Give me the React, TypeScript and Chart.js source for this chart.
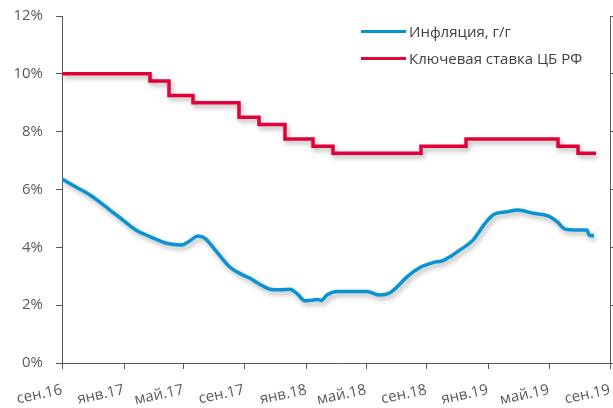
import React, { useEffect, useRef } from 'react';
import { Chart, registerables } from 'chart.js';

Chart.register(...registerables);

// x values are days from the start of the axis (labelled "сен.16")
const tickDays = [0, 124, 243, 364, 489, 608, 729, 852, 974, 1096];
const tickLabels = ['сен.16', 'янв.17', 'май.17', 'сен.17', 'янв.18', 'май.18', 'сен.18', 'янв.19', 'май.19', 'сен.19'];

const inflationDays = [0, 26, 56, 96, 120, 146, 176, 209, 239, 256, 272, 286, 309, 336, 362, 376, 396, 416, 436, 456, 470, 486, 502, 512, 518, 530, 550, 576, 610, 636, 656, 674, 690, 716, 742, 762, 780, 796, 822, 846, 862, 890, 912, 942, 972, 990, 1006, 1030, 1050, 1054, 1064];
const inflationValues = [6.36, 6.10, 5.81, 5.29, 4.97, 4.62, 4.37, 4.14, 4.08, 4.23, 4.39, 4.31, 3.85, 3.31, 3.04, 2.93, 2.72, 2.55, 2.53, 2.55, 2.40, 2.15, 2.18, 2.20, 2.16, 2.35, 2.47, 2.47, 2.47, 2.35, 2.43, 2.70, 2.98, 3.30, 3.47, 3.54, 3.72, 3.91, 4.25, 4.83, 5.12, 5.23, 5.29, 5.18, 5.09, 4.89, 4.63, 4.60, 4.60, 4.43, 4.40];

const keyRateDays = [0, 176, 214, 262, 354, 394, 446, 502, 542, 718, 808, 992, 1032, 1068];
const keyRateValues = [10.0, 9.75, 9.25, 9.0, 8.5, 8.25, 7.75, 7.5, 7.25, 7.5, 7.75, 7.5, 7.25, 7.25];

const yTickValues = [0, 2, 4, 6, 8, 10, 12];

const seriesNames = ['Инфляция, г/г', 'Ключевая ставка ЦБ РФ'];
const BLUE = '#0A93D2';
const RED = '#E2003B';
const AXIS = '#595959';
const FONT = "'Open Sans', sans-serif";

const shadowPlugin = {
  id: 'lineShadow',
  beforeDatasetDraw(chart: any) {
    const ctx = chart.ctx;
    ctx.save();
    ctx.shadowColor = 'rgba(0,0,0,0.3)';
    ctx.shadowBlur = 5;
    ctx.shadowOffsetX = 2;
    ctx.shadowOffsetY = 3;
  },
  afterDatasetDraw(chart: any) {
    chart.ctx.restore();
  },
};

const noPad = (s: any) => {
  s.paddingTop = 0;
  s.paddingBottom = 0;
  s.paddingLeft = 0;
  s.paddingRight = 0;
};

export default function App() {
  const ref = useRef<HTMLCanvasElement>(null);

  useEffect(() => {
    document.body.style.margin = '0';
    const canvas = ref.current;
    if (!canvas) return;
    Chart.defaults.font.family = FONT;
    const chart = new Chart(canvas, {
      type: 'line',
      data: {
        datasets: [
          {
            label: seriesNames[0],
            data: inflationDays.map((d, i) => ({ x: d, y: inflationValues[i] })),
            borderColor: BLUE,
            borderWidth: 3.5,
            pointRadius: 0,
            tension: 0.4,
            cubicInterpolationMode: 'monotone',
            fill: false,
          },
          {
            label: seriesNames[1],
            data: keyRateDays.map((d, i) => ({ x: d, y: keyRateValues[i] })),
            borderColor: RED,
            borderWidth: 3.5,
            pointRadius: 0,
            stepped: true,
            fill: false,
          },
        ],
      } as any,
      options: {
        animation: false,
        responsive: false,
        maintainAspectRatio: false,
        layout: { padding: { top: 16, left: 0, right: 0, bottom: 0 } },
        plugins: { legend: { display: false }, tooltip: { enabled: false } },
        scales: {
          x: {
            type: 'linear',
            min: 0,
            max: 1096,
            afterBuildTicks: (s: any) => {
              s.ticks = tickDays.map((v) => ({ value: v }));
            },
            afterFit: (s: any) => {
              s.height = 45;
              noPad(s);
            },
            ticks: {
              autoSkip: false,
              minRotation: 12,
              maxRotation: 12,
              padding: 12,
              color: AXIS,
              font: { size: 15, family: FONT },
              callback: (_v: any, i: number) => tickLabels[i],
            },
            grid: { drawOnChartArea: false, drawTicks: true, tickLength: 6, color: AXIS },
            border: { color: AXIS, width: 1 },
          },
          y: {
            min: 0,
            max: 12,
            afterBuildTicks: (s: any) => {
              s.ticks = yTickValues.map((v) => ({ value: v }));
            },
            afterFit: (s: any) => {
              s.width = 62;
              noPad(s);
            },
            ticks: {
              padding: 13,
              color: AXIS,
              font: { size: 15, family: FONT },
              callback: (v: any) => v + '%',
            },
            grid: { drawOnChartArea: false, drawTicks: true, tickLength: 6, color: AXIS },
            border: { color: AXIS, width: 1 },
          },
          y2: {
            position: 'right',
            min: 0,
            max: 12,
            afterBuildTicks: (s: any) => {
              s.ticks = yTickValues.map((v) => ({ value: v }));
            },
            afterFit: (s: any) => {
              s.width = 3;
              noPad(s);
            },
            ticks: { display: false },
            grid: { drawOnChartArea: false, drawTicks: true, tickLength: 4, color: AXIS },
            border: { color: AXIS, width: 1 },
          },
        },
      } as any,
      plugins: [shadowPlugin],
    });
    return () => chart.destroy();
  }, []);

  const rowStyle: React.CSSProperties = {
    position: 'absolute',
    left: 361,
    height: 20,
    display: 'flex',
    alignItems: 'center',
    fontFamily: FONT,
    fontSize: 15,
    color: '#404040',
    whiteSpace: 'nowrap',
  };
  const lineStyle = (c: string): React.CSSProperties => ({
    width: 45,
    height: 3,
    background: c,
    marginRight: 3,
  });

  return (
    <div style={{ position: 'relative', width: 613, height: 408, background: '#fff', overflow: 'hidden' }}>
      <canvas ref={ref} width={613} height={408} style={{ display: 'block', width: 613, height: 408 }} />
      <div style={{ ...rowStyle, top: 21 }}>
        <div style={lineStyle(BLUE)} />
        <span>{seriesNames[0]}</span>
      </div>
      <div style={{ ...rowStyle, top: 48 }}>
        <div style={lineStyle(RED)} />
        <span>{seriesNames[1]}</span>
      </div>
    </div>
  );
}
